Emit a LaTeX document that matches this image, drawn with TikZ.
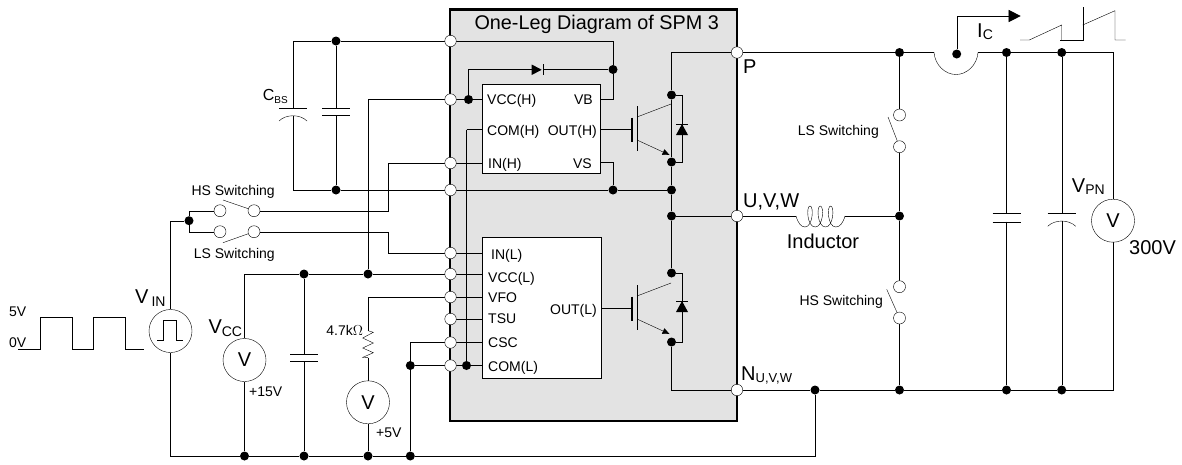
\documentclass[tikz,border=0pt]{standalone}
\usepackage{fontspec}
\setmainfont{Liberation Sans}
\usepackage{tikz}
\usetikzlibrary{backgrounds, arrows.meta}
\pgfdeclarelayer{wires}
\pgfsetlayers{background,wires,main}
\newcommand{\lowtxt}[2]{\raisebox{-2.5pt}{\fontsize{#1}{#1}\selectfont #2}}
\tikzset{
  pincirc/.style={circle, draw, fill=white, inner sep=0pt, minimum size=11.5pt},
  jdot/.style={circle, fill=black, inner sep=0pt, minimum size=9pt},
  meter/.style={circle, draw, fill=white, inner sep=0pt, minimum size=43pt, font=\fontsize{20}{20}\selectfont},
  icbox/.style={draw, fill=white, inner sep=0pt},
  lbl/.style={inner sep=0pt, text height=10pt, text depth=0pt, font=\fontsize{14}{14}\selectfont},
  biglbl/.style={inner sep=0pt, text height=14.3pt, text depth=0pt, font=\fontsize{20}{20}\selectfont}
}
\begin{document}
\begin{tikzpicture}[x=1pt, y=-1pt, line width=1pt]
\useasboundingbox (0,0) rectangle (1182,464);

\begin{pgfonlayer}{background}
\node[draw, line width=2.5pt, fill=black!11, inner sep=0pt, minimum width=287pt, minimum height=411.5pt] (spm) at (593.5,215.25) {};
\end{pgfonlayer}

\node[icbox, minimum width=117.3pt, minimum height=89pt] (hic) at (541.3,128.5) {};
\node[icbox, minimum width=118.3pt, minimum height=141pt] (lic) at (541.8,307.5) {};

\foreach \n/\y in {pboot/41, pvcch/99.5, pinh/163, pvs/190, pinl/253, pvccl/274, pvfo/297, ptsu/319, pcsc/342.5, pcoml/365.5}
  \node[pincirc] (\n) at (450.5,\y) {};
\foreach \n/\y in {pp/52.5, pu/216, pn/390}
  \node[pincirc] (\n) at (737,\y) {};

\foreach \n/\x/\y in {jtop/336/41, jbot/336/190, jvb/613/69.5, jvs/613/190, jdio/468.5/99.5, jcoml/466.5/365.5,
    je/671.5/190, ju/671.5/216, jch/671.5/95, jeh/671.5/162, jcl/671.5/273, jel/671.5/342,
    jin/189/220.7, jcca/304/274, jccb/368/274, jba/244.5/456, jbb/304/456, jbc/368/456, jbd/410.3/456, jcs/410.3/365.5,
    jna/815/390, jnb/899.5/390, jnc/1006.5/390, jnd/1061.7/390, jpa/899.5/52.5, jpb/1006.5/52.5, jpc/1061.7/52.5, jum/899.5/216, jic/956.7/54}
  \node[jdot] (\n) at (\x,\y) {};

\foreach \n/\x/\y in {swa/220/210.7, swb/254/210.7, swc/220/231.7, swd/254/231.7, swe/899.5/115, swf/899.5/146.7, swg/899.5/286.7, swh/899.5/318}
  \node[pincirc, minimum size=12pt] (\n) at (\x,\y) {};

\node[meter] (vin) at (170.5,331) {};
\node[meter] (vcc) at (244.5,360) {V};
\node[meter] (vfo) at (368,402.3) {V};
\node[meter] (vpn) at (1113,220.7) {V};

\coordinate (cnw) at (293,41);
\coordinate (csw) at (293,190);
\coordinate (cvcc) at (368,99.5);
\coordinate (cinh) at (388,163);
\coordinate (cfb) at (368,297);
\coordinate (rtop) at (368,330.7);
\coordinate (rbot) at (368,357.7);
\coordinate (ccom) at (466.5,129.5);
\coordinate (loa) at (934,52.5);
\coordinate (lob) at (978,52.5);
\coordinate (cne) at (1113,52.5);
\coordinate (cse) at (1113,390);
\coordinate (ila) at (956.7,16);
\coordinate (ilb) at (1020.7,16);
\coordinate (arma) at (223,200);
\coordinate (armc) at (223,242.7);
\coordinate (arme) at (888,117);
\coordinate (armg) at (886.7,289.3);
\coordinate (ind) at (796,216);
\coordinate (ine) at (845,216);
\coordinate (dia) at (531.7,69.5);
\coordinate (dib) at (542.7,69.5);

\begin{pgfonlayer}{wires}
\foreach \n/\x/\y/\g in {ca/336/108/7, cb/304/354.3/6.7, cc/1006.5/213.3/8.4}{
  \coordinate (\n t) at (\x,\y);
  \coordinate (\n b) at (\x,\y+\g);
  \draw (\x-14,\y) -- (\x+14,\y);
  \draw (\x-14,\y+\g) -- (\x+14,\y+\g);
}
\foreach \n/\x/\y in {cp/293/108, cq/1061.7/213.3}{
  \coordinate (\n t) at (\x,\y);
  \coordinate (\n b) at (\x,\y+7.75);
  \draw (\x-14,\y) -- (\x+14,\y);
  \draw (\x-14,\y+13) .. controls (\x-7,\y+6) and (\x+7,\y+6) .. (\x+14,\y+13);
}
\draw (jtop) -- (cat);
\draw (cab) -- (jbot);
\draw (cnw) -- (cpt);
\draw (cpb) -- (csw);
\draw (cnw) -- (jtop) -- (pboot);
\draw (csw) -- (jbot) -- (pvs);
\draw (pboot) -| (jvb);
\draw (jvb) |- (hic.east |- pvcch);
\draw (jvb) -- (dib);
\draw (dia) -| (jdio);
\draw (pvcch) -- (jdio) -- (hic.west |- pvcch);
\draw (pvcch) -- (cvcc) -- (jccb);
\draw (pinh) -- (hic.west |- pinh);
\draw (pinh) -| (cinh) |- (swb);
\draw (swd) -| (cinh |- pinl) -- (pinl);
\draw (ccom) -- (hic.west |- ccom);
\draw (ccom) -- (jcoml);
\draw (pcoml) -- (jcoml) -- (lic.west |- pcoml);
\draw (pinl) -- (lic.west |- pinl);
\draw (pvccl) -- (lic.west |- pvccl);
\draw (pvfo) -- (lic.west |- pvfo);
\draw (ptsu) -- (lic.west |- ptsu);
\draw (pcsc) -- (lic.west |- pcsc);
\draw (hic.east |- jeh) -- (613,162) -- (jvs);
\draw (pvs) -- (jvs) -- (je);
\draw (pp) -| (jch);
\draw (jch) -- (jeh) -- (je) -- (ju) -- (jcl);
\draw (ju) -- (pu);
\draw (jel) |- (pn);
\foreach \n/\k/\g/\d in {h/hic/129.5/129.5, l/lic/308.5/306.5}{
  \coordinate (dd\n) at (682,\d);
  \draw (\k.east |- 0,\g) -- (632,\g);
  \draw[line width=1.5pt] (632,\g-12) -- (632,\g+12);
  \draw (637,\g-23.5) -- (637,\g+21.5);
  \draw (637,\g-12.5) -- (671,\g-25.5);
  \draw[-{Triangle[length=7pt,width=6pt]}] (637,\g+10.5) -- (669.5,\g+25.5);
  \draw (jc\n) -| (dd\n) |- (je\n);
  \fill (676,\d+5.5) -- (688,\d+5.5) -- (682,\d-5.5) -- cycle;
  \draw (676,\d-5.5) -- (688,\d-5.5);
}
\fill (dia) ++(0,-5) -- ++(0,10.5) -- ++(10,-5.25) -- cycle;
\draw (dib) ++(0,-5.25) -- ++(0,10.5);
\draw (vin) |- (jin);
\draw (jin) |- (swa);
\draw (jin) |- (swc);
\draw (swb) -- (arma);
\draw (swd) -- (armc);
\draw (vin) |- (jba);
\draw (jba) -- (jbb) -- (jbc) -- (jbd) -| (jna);
\draw (vcc) -- (jba);
\draw (vcc) |- (jcca);
\draw (jcca) -- (jccb) -- (pvccl);
\draw (jcca) -- (cbt);
\draw (cbb) -- (jbb);
\draw (pvfo) -- (cfb) -- (rtop);
\draw (rtop) -- ++(5.3,1.6) -- ++(-10.6,5.7) -- ++(10.6,5) -- ++(-10.6,5) -- ++(10.6,4.7) -- ++(-10.6,4.7) -- (rbot);
\draw (rbot) -- (vfo);
\draw (vfo) -- (jbc);
\draw (pcsc) -| (jcs);
\draw (jcs) -- (jbd);
\draw (pcoml) -- (jcs);
\draw (pn) -- (jna) -- (jnb) -- (jnc) -- (jnd) -- (cse) -- (vpn);
\draw (vpn) -- (cne) -- (jpc) -- (jpb) -- (lob);
\draw (lob) .. controls (977,65) and (967,74.5) .. (956,74.5) .. controls (945,74.5) and (935,65) .. (loa);
\draw (loa) -- (jpa) -- (pp);
\draw (jpa) -- (swe);
\draw (swf) -- (jum);
\draw (jum) -- (swg);
\draw (swh) -- (jnb);
\draw (swf) -- (arme);
\draw (swh) -- (armg);
\draw (pu) -- (ind);
\draw (ind) .. controls (798,223) and (801,227) .. (805,227);
\foreach \x in {810,820.3,830.6}
  \draw (\x-5.15,227) .. controls (\x+3,227) and (\x+4,206) .. (\x,206) .. controls (\x-4,206) and (\x-3,227) .. (\x+5.15,227);
\draw (835.75,227) .. controls (840,227) and (843,223) .. (ine);
\draw (ine) -- (jum);
\draw (jpb) -- (cct);
\draw (ccb) -- (jnc);
\draw (jpc) -- (cqt);
\draw (cqb) -- (jnd);
\draw[-{Triangle[length=12pt,width=12pt]}] (jic) -- (ila) -- (ilb);
\draw (18.3,349.3) -- (40,349.3) -- (40,317.3) -- (71.7,317.3) -- (71.7,349.3) -- (93.3,349.3) -- (93.3,317.3) -- (125.3,317.3) -- (125.3,349.3) -- (144,349.3);
\draw (1020,40) -- (1029.3,40) -- (1061.7,25) -- (1061.7,40);
\draw (1060,40) -- (1082.7,40) -- (1082.7,6.7);
\draw (1082.7,25) -- (1115,10.7) -- (1115,40) -- (1125.7,40);
\end{pgfonlayer}

\draw (157.3,340) -- (163.3,340) -- (163.3,320) -- (175.7,320) -- (175.7,340) -- (182.7,340);

\node[biglbl, font=\fontsize{19.8}{19.8}\selectfont] (title) at (596.7,22) {One-Leg Diagram of SPM 3};
\node[lbl, anchor=west] (lvcch) at (487,99.5) {VCC(H)};
\node[lbl, anchor=west] (lcomh) at (487,130) {COM(H)};
\node[lbl, anchor=west] (linh) at (488,163) {IN(H)};
\node[lbl, anchor=east] (lvb) at (593,99.5) {VB};
\node[lbl, anchor=east] (louth) at (597,130) {OUT(H)};
\node[lbl, anchor=east] (lvs) at (592,163) {VS};
\node[lbl, anchor=west] (linl) at (491,254) {IN(L)};
\node[lbl, anchor=west] (lvccl) at (488,277) {VCC(L)};
\node[lbl, anchor=west] (lvfo) at (488,297) {VFO};
\node[lbl, anchor=west] (ltsu) at (488,318) {TSU};
\node[lbl, anchor=west] (lcsc) at (488,342) {CSC};
\node[lbl, anchor=west] (lcoml) at (488,366) {COM(L)};
\node[lbl, anchor=east] (loutl) at (597,309) {OUT(L)};
\node[biglbl, anchor=west] (lp) at (743,66) {P};
\node[biglbl, anchor=west] (lu) at (743,200) {U,V,W};
\node[biglbl, anchor=west] (ln) at (741,373) {N\lowtxt{13}{U,V,W}};
\node[biglbl] (lind) at (823,241.7) {Inductor};
\node[biglbl, anchor=west] (licc) at (977,30) {I\lowtxt{14}{C}};
\node[biglbl, anchor=west] (lvpn) at (1071.7,185) {V\lowtxt{14}{PN}};
\node[biglbl, anchor=west] (l300) at (1129,247) {300V};
\node[biglbl, anchor=west] (lvin) at (135,296.7) {V\hspace{3pt}\lowtxt{14}{IN}};
\node[biglbl, anchor=west] (lvcc) at (208.3,326.7) {V\lowtxt{14}{CC}};
\node[lbl, anchor=west, font=\fontsize{16}{16}\selectfont, text height=11.5pt] (lcbs) at (262.7,95) {C\lowtxt{10}{BS}};
\node[lbl, anchor=east] (lres) at (363.3,330) {4.7k$\Omega$};
\node[lbl, anchor=west] (lfift) at (249,391.7) {+15V};
\node[lbl, anchor=west] (lfive) at (376,432.7) {+5V};
\node[lbl, anchor=west] (l5v) at (9,311) {5V};
\node[lbl, anchor=west] (l0v) at (9,342) {0V};
\node[lbl, anchor=east] (lhsa) at (275,190) {HS Switching};
\node[lbl, anchor=east] (llsa) at (275,253) {LS Switching};
\node[lbl, anchor=east] (llsb) at (879,130) {LS Switching};
\node[lbl, anchor=east] (lhsb) at (883,300.7) {HS Switching};
\end{tikzpicture}
\end{document}
